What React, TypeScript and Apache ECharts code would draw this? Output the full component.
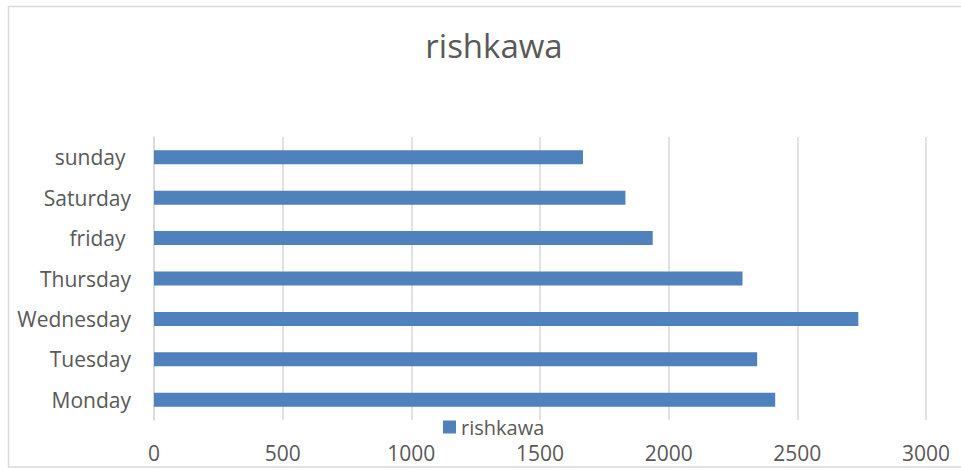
import React, { useEffect, useRef } from "react";
import * as echarts from "echarts";

// Daily totals for the "rishkawa" series (bottom-to-top order on the category axis)
const days = ["Monday", "Tuesday", "Wednesday", "Thursday", "friday ", "Saturday", "sunday "];
const rishkawa = [2414, 2344, 2737, 2287, 1938, 1832, 1667];
const seriesName = "rishkawa";
const titleText = "rishkawa";

const FONT = "'Open Sans', 'Noto Sans', sans-serif";
const TEXT = "#595959";
const GRID = "#d9d9d9";

export default function App() {
  const ref = useRef<HTMLDivElement>(null);

  useEffect(() => {
    if (!ref.current) return;
    const chart = echarts.init(ref.current, undefined, { renderer: "svg" });
    chart.setOption({
      animation: false,
      backgroundColor: "#ffffff",
      textStyle: { fontFamily: FONT },
      title: {
        text: titleText,
        left: 489,
        top: 24,
        textAlign: "center",
        textStyle: { fontFamily: FONT, fontSize: 33, fontWeight: "normal", color: TEXT },
      },
      legend: {
        data: [seriesName],
        left: 438,
        top: 412,
        icon: "rect",
        itemWidth: 13,
        itemHeight: 13,
        itemGap: 5,
        textStyle: { fontFamily: FONT, fontSize: 20, lineHeight: 20, color: TEXT },
      },
      grid: { left: 154, right: 35, top: 137, height: 283, containLabel: false },
      xAxis: {
        type: "value",
        min: 0,
        max: 3000,
        interval: 500,
        axisLine: { show: false },
        axisTick: { show: false },
        splitLine: { lineStyle: { color: GRID, width: 1.5 } },
        axisLabel: {
          fontFamily: FONT,
          fontSize: 21,
          lineHeight: 21,
          color: TEXT,
          margin: 22,
          formatter: (v: number) => String(v),
        },
      },
      yAxis: {
        type: "category",
        data: days,
        axisLine: { show: true, lineStyle: { color: GRID, width: 1.5 } },
        axisTick: { show: false },
        axisLabel: { fontFamily: FONT, fontSize: 21, color: TEXT, margin: 23 },
      },
      series: [
        {
          name: seriesName,
          type: "bar",
          data: rishkawa,
          barWidth: 14,
          itemStyle: { color: "#4f81bd" },
        },
      ],
      graphic: [
        {
          type: "rect",
          shape: { x: 8.5, y: 6.5, width: 1000, height: 460.5 },
          style: { fill: "none", stroke: GRID, lineWidth: 1.5 },
          silent: true,
        },
      ],
    });
    return () => chart.dispose();
  }, []);

  return (
    <div
      ref={ref}
      style={{ position: "fixed", left: 0, top: 0, width: 961, height: 468 }}
    />
  );
}
